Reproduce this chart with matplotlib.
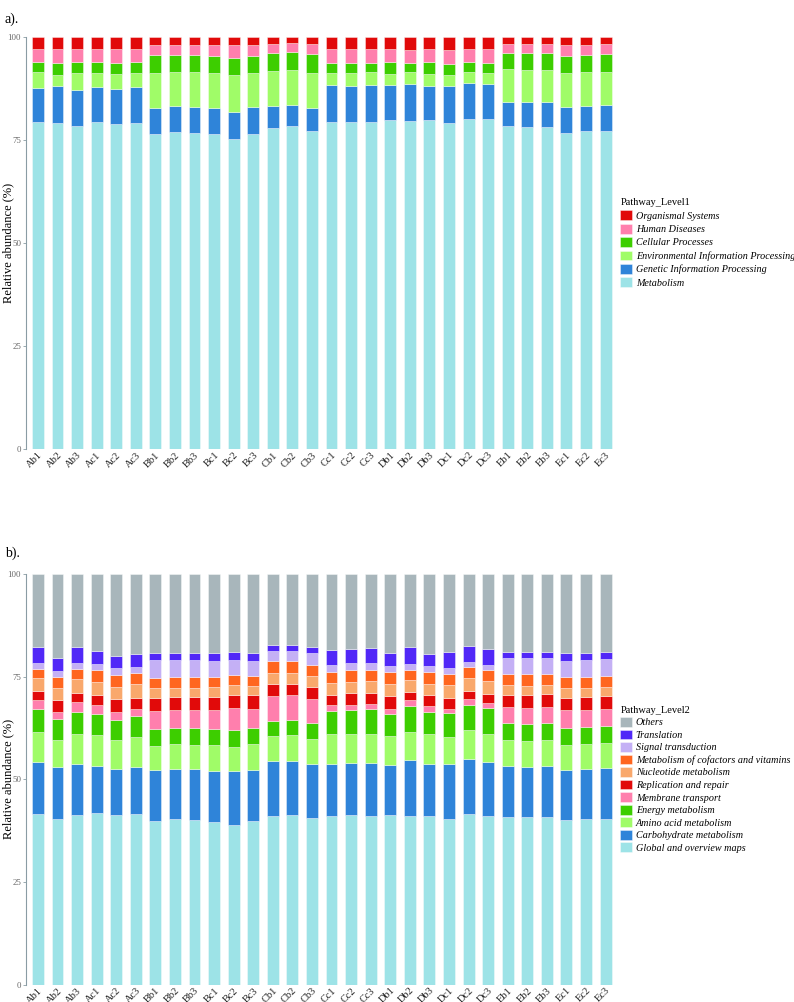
import matplotlib
matplotlib.use("Agg")
import matplotlib.pyplot as plt
import numpy as np

plt.rcParams['font.family'] = ['Liberation Serif', 'DejaVu Serif']

samples = ["Ab1", "Ab2", "Ab3", "Ac1", "Ac2", "Ac3", "Bb1", "Bb2", "Bb3", "Bc1",
           "Bc2", "Bc3", "Cb1", "Cb2", "Cb3", "Cc1", "Cc2", "Cc3", "Db1", "Db2",
           "Db3", "Dc1", "Dc2", "Dc3", "Eb1", "Eb2", "Eb3", "Ec1", "Ec2", "Ec3"]

# ---- Level 1 (%), bottom -> top ----
metabolism = [79.4, 79.1, 78.4, 79.3, 78.9, 79.2, 76.5, 76.9, 76.6, 76.5,
              75.2, 76.5, 77.9, 78.4, 77.3, 79.4, 79.4, 79.4, 79.8, 79.5,
              79.9, 79.2, 80.2, 80.0, 78.3, 78.2, 78.2, 76.7, 77.1, 77.3]
genetic = [8.3, 8.9, 8.7, 8.5, 8.5, 8.6, 6.2, 6.3, 6.3, 6.3,
           6.6, 6.4, 5.3, 5.1, 5.4, 8.9, 8.8, 8.9, 8.5, 9.0,
           8.3, 9.0, 8.6, 8.6, 6.0, 6.0, 6.0, 6.2, 6.2, 6.2]
environmental = [3.7, 2.8, 4.1, 3.5, 3.5, 3.4, 8.6, 8.2, 8.6, 8.4,
                 9.0, 8.4, 8.6, 8.4, 8.6, 3.0, 3.1, 3.2, 2.7, 3.0,
                 2.9, 2.6, 2.8, 2.7, 7.9, 7.8, 7.8, 8.4, 8.3, 8.1]
cellular = [2.6, 2.9, 2.7, 2.7, 2.9, 2.7, 4.3, 4.2, 4.1, 4.1,
            4.2, 4.0, 4.3, 4.4, 4.5, 2.4, 2.4, 2.3, 2.9, 2.1,
            2.8, 2.7, 2.3, 2.4, 3.8, 4.0, 4.0, 4.2, 4.0, 4.2]
human = [3.2, 3.4, 3.3, 3.2, 3.4, 3.3, 2.5, 2.5, 2.5, 2.7,
         3.0, 2.8, 2.2, 2.2, 2.4, 3.5, 3.5, 3.4, 3.2, 3.3,
         3.2, 3.3, 3.2, 3.4, 2.2, 2.2, 2.2, 2.6, 2.5, 2.4]
organismal = [2.8, 2.9, 2.8, 2.8, 2.8, 2.8, 1.9, 1.9, 1.9, 2.0,
              2.0, 1.9, 1.7, 1.5, 1.8, 2.8, 2.8, 2.8, 2.9, 3.1,
              2.9, 3.2, 2.9, 2.9, 1.8, 1.8, 1.8, 1.9, 1.9, 1.8]

level1_names = ["Metabolism", "Genetic Information Processing",
                "Environmental Information Processing", "Cellular Processes",
                "Human Diseases", "Organismal Systems"]
level1_values = [metabolism, genetic, environmental, cellular, human, organismal]
level1_colors = ["#9DE3E7", "#2F84D9", "#A0FC68", "#3DCE00", "#FF7FAD", "#E10A0A"]

# ---- Level 2 (%), bottom -> top ----
global_maps = [41.5, 40.3, 41.3, 41.8, 41.4, 41.5, 39.9, 40.2, 40.0, 39.7,
               38.9, 39.8, 41.0, 41.4, 40.6, 41.1, 41.3, 41.1, 41.2, 41.0,
               41.1, 40.4, 41.5, 41.0, 40.8, 40.8, 40.7, 40.0, 40.3, 40.4]
carbohydrate = [12.7, 12.6, 12.5, 11.5, 11.1, 11.5, 12.3, 12.3, 12.4, 12.4,
                13.1, 12.5, 13.4, 13.1, 13.1, 12.7, 12.6, 12.9, 12.3, 13.6,
                12.7, 13.2, 13.4, 13.2, 12.4, 12.3, 12.5, 12.3, 12.1, 12.3]
amino_acid = [7.3, 6.7, 7.2, 7.4, 7.1, 7.2, 5.9, 6.0, 6.0, 6.3,
              5.8, 6.2, 6.1, 6.3, 6.1, 7.1, 7.1, 7.0, 7.1, 6.8,
              7.1, 6.7, 7.0, 6.9, 6.3, 6.3, 6.3, 6.1, 6.2, 6.1]
energy = [5.7, 5.1, 5.4, 5.3, 4.9, 5.1, 4.1, 4.1, 4.0, 3.9,
          4.2, 4.1, 3.8, 3.7, 3.9, 5.7, 5.8, 6.0, 5.4, 6.5,
          5.5, 5.8, 6.3, 6.3, 4.1, 4.1, 4.1, 4.2, 4.1, 4.2]
membrane = [2.2, 1.6, 2.4, 2.0, 1.9, 1.9, 4.4, 4.2, 4.4, 4.6,
            5.3, 4.5, 6.0, 5.9, 5.9, 1.4, 1.4, 1.3, 1.2, 1.3,
            1.5, 1.1, 1.3, 1.1, 3.9, 3.9, 4.0, 4.3, 4.1, 4.0]
replication = [2.1, 3.1, 2.2, 2.6, 3.2, 2.7, 3.3, 3.2, 3.2, 3.2,
               3.2, 3.3, 2.8, 2.7, 2.8, 2.6, 2.7, 2.6, 3.1, 2.1,
               2.6, 2.7, 2.1, 2.3, 3.1, 3.2, 3.1, 3.0, 3.2, 3.2]
nucleotide = [3.1, 2.8, 3.4, 3.2, 2.9, 3.2, 2.3, 2.2, 2.2, 2.4,
              2.5, 2.3, 2.7, 2.7, 2.8, 2.9, 2.8, 3.0, 2.9, 2.8,
              2.7, 3.1, 3.1, 3.1, 2.3, 2.2, 2.2, 2.4, 2.3, 2.3]
cofactors = [2.3, 2.8, 2.4, 2.7, 2.9, 2.8, 2.5, 2.7, 2.7, 2.4,
             2.4, 2.5, 2.9, 2.9, 2.6, 2.7, 2.8, 2.7, 2.9, 2.5,
             2.8, 2.7, 2.6, 2.6, 2.7, 2.8, 2.8, 2.5, 2.6, 2.6]
signal = [1.5, 1.3, 1.4, 1.5, 1.7, 1.5, 4.3, 4.2, 4.2, 3.9,
          3.7, 3.7, 2.6, 2.6, 3.0, 1.6, 1.7, 1.6, 1.4, 1.5,
          1.5, 1.4, 1.3, 1.4, 3.9, 3.9, 3.8, 4.1, 4.2, 4.1]
translation = [3.7, 3.2, 3.9, 3.3, 2.9, 3.2, 1.7, 1.7, 1.7, 1.9,
               1.8, 1.9, 1.4, 1.4, 1.3, 3.7, 3.5, 3.8, 3.3, 4.0,
               3.1, 3.8, 3.8, 3.8, 1.6, 1.6, 1.6, 1.8, 1.7, 1.7]
others = [17.9, 20.5, 17.9, 18.7, 20.0, 19.4, 19.3, 19.2, 19.2, 19.3,
          19.1, 19.2, 17.3, 17.3, 17.9, 18.5, 18.3, 18.0, 19.2, 17.9,
          19.4, 19.1, 17.6, 18.3, 18.9, 18.9, 18.9, 19.3, 19.2, 19.1]

level2_names = ["Global and overview maps", "Carbohydrate metabolism",
                "Amino acid metabolism", "Energy metabolism", "Membrane transport",
                "Replication and repair", "Nucleotide metabolism",
                "Metabolism of cofactors and vitamins", "Signal transduction",
                "Translation", "Others"]
level2_values = [global_maps, carbohydrate, amino_acid, energy, membrane,
                 replication, nucleotide, cofactors, signal, translation, others]
level2_colors = ["#9DE3E7", "#2F84D9", "#A0FC68", "#3DCE00", "#FF7FAD", "#E10A0A",
                 "#F9A86C", "#FF661F", "#C4B0F5", "#5128F7", "#A8B6BB"]


def stacked_panel(ax, names, values, colors, legend_title, spacing):
    x = np.arange(len(samples))
    bottom = np.zeros(len(samples))
    handles = []
    for name, vals, col in zip(names, values, colors):
        vals = np.array(vals)
        b = ax.bar(x, vals, bottom=bottom, width=0.61, color=col,
                   edgecolor=(1, 1, 1, 0.55), linewidth=0.5, label=name)
        handles.append(b)
        bottom += vals
    ax.set_xlim(-0.61, len(samples) - 1 + 0.61)
    ax.set_ylim(0, 100)
    ax.set_yticks([0, 25, 50, 75, 100])
    ax.tick_params(axis='y', colors='#8A9CA4', labelcolor='#666666',
                   labelsize=6.3, length=2.5, width=0.6, pad=1)
    ax.set_xticks(x)
    ax.set_xticklabels(samples, rotation=45, ha='right', va='top',
                       rotation_mode='anchor', fontsize=7.5, color='#222222')
    ax.tick_params(axis='x', length=0, pad=1)
    for s in ['top', 'right', 'bottom']:
        ax.spines[s].set_visible(False)
    ax.spines['left'].set_color('#8A9CA4')
    ax.spines['left'].set_linewidth(0.8)
    ax.set_ylabel("Relative abundance (%)", fontsize=9)
    ax.yaxis.set_label_coords(-0.0205, 0.5)
    leg = ax.legend(handles[::-1], names[::-1], title=legend_title,
                    loc='center left', bbox_to_anchor=(1.005, 0.5),
                    frameon=False, fontsize=7.3, title_fontsize=7.5,
                    handlelength=1.1, handleheight=1.1, handletextpad=0.4,
                    labelspacing=spacing, borderaxespad=0, borderpad=0)
    leg._legend_box.align = "left"
    for t in leg.get_texts():
        t.set_fontstyle('italic')


fig = plt.figure(figsize=(7.94, 10.02), dpi=100)
ax1 = fig.add_axes([0.0327, 0.5519, 0.745, 0.4112])
ax2 = fig.add_axes([0.0327, 0.0174, 0.745, 0.4098])

stacked_panel(ax1, level1_names, level1_values, level1_colors, "Pathway_Level1", 0.3)
stacked_panel(ax2, level2_names, level2_values, level2_colors, "Pathway_Level2", 0.22)

fig.text(0.006, 0.988, "a).", fontsize=10, va='top', ha='left')
fig.text(0.006, 0.455, "b).", fontsize=10, va='top', ha='left')

fig.savefig("out.png", dpi=100)
